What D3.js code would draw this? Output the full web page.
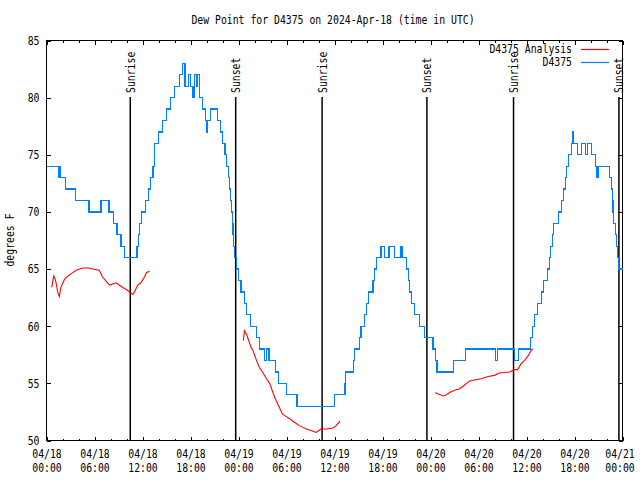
<!DOCTYPE html>
<html><head><meta charset="utf-8">
<script src="https://cdn.jsdelivr.net/npm/d3@7"></script>
<style>
body{margin:0;background:#fff}
svg{display:block}
text{font-family:"DejaVu Sans Mono",monospace;font-size:12px;fill:#000}
</style>
</head><body><svg id="c" width="640" height="480"></svg>
<script>
const title = "Dew Point for D4375 on 2024-Apr-18 (time in UTC)";
const yLabel = "degrees F";
const startTime = "2024-04-18T00:00:00Z";
const endTime = "2024-04-21T00:00:00Z";
const yTicks = [50, 55, 60, 65, 70, 75, 80, 85];
const seriesNames = ["D4375 Analysis", "D4375"];
const seriesColors = ["#ff0000", "#0080ff"];

// D4375 observations: hours since start, value (change points)
const obsHours = [0.1,1.5,1.6,1.7,2.4,3.6,5.3,6.8,7.8,8.4,8.8,9.3,9.7,11.3,11.5,11.6,11.9,12.4,12.7,13.0,13.3,13.45,13.5,14.0,14.5,14.95,15.5,16.0,16.6,17.0,17.3,17.7,18.0,18.3,18.5,18.7,18.85,19.1,19.5,19.85,19.95,20.1,20.5,21.4,21.7,22.0,22.3,22.5,22.7,22.9,23.0,23.1,23.2,23.3,23.4,23.5,23.75,24.0,24.3,24.7,25.0,25.5,26.2,26.6,27.2,27.5,27.8,28.6,29.0,30.0,31.3,36.0,37.3,37.4,38.4,38.5,39.1,39.3,39.75,40.0,40.2,40.8,41.0,41.2,41.8,42.25,42.8,43.5,44.3,44.5,44.95,45.2,45.4,45.6,46.0,46.6,47.25,48.3,48.6,48.8,50.9,52.4,56.15,56.4,58.45,59.0,60.5,60.7,60.95,61.4,61.9,62.1,62.6,62.85,63.0,63.2,63.4,64.0,64.4,64.6,64.9,65.0,65.2,65.6,65.75,65.85,66.4,66.9,67.4,67.6,68.1,68.6,68.8,69.0,70.4,70.6,70.7,70.8,70.9,71.1,71.25,71.35,71.45,72.0];
const obsValues = [74,73,74,73,72,71,70,71,70,69,68,67,66,67,68,69,70,71,72,73,74,75,76,77,78,79,80,81,82,83,81,82,81,80,82,81,82,80,79,78,77,78,79,78,77,76,75,74,73,72,71,70,69,68,67,66,65,64,63,62,61,60,59,58,57,58,57,56,55,54,53,54,55,56,57,58,59,60,61,62,63,64,65,66,67,66,67,66,67,66,65,64,63,62,61,60,59,58,57,56,57,58,57,58,57,58,59,60,61,62,63,64,65,66,67,68,69,70,71,72,73,74,75,76,77,76,75,76,75,76,75,74,73,74,73,72,71,70,69,68,67,66,65,65];

// D4375 Analysis: hours since start, value (null = gap)
const anaHours = [0.66,0.9,1.05,1.2,1.4,1.6,1.8,2.0,2.25,2.7,3.1,3.7,4.5,5.2,5.8,6.6,7.0,7.5,7.9,8.3,8.7,9.1,9.75,10.2,10.5,10.8,11.0,11.4,11.8,12.25,12.5,12.9,
  18.0,
  24.6,24.75,25.0,25.2,25.4,25.6,25.8,26.2,26.6,27.0,27.5,27.9,28.3,28.7,29.1,29.5,29.75,30.4,31.0,31.6,32.5,33.3,33.7,34.1,34.3,35.0,35.8,36.2,36.7,
  42.0,
  48.6,48.9,49.2,49.6,50.0,50.4,51.0,51.6,52.0,52.5,52.9,53.5,54.3,55.2,56.0,56.6,57.9,58.5,58.9,59.3,59.75,60.2,60.6,60.8];
const anaValues = [63.4,64.4,64.2,63.8,63.0,62.6,63.4,63.7,64.1,64.4,64.6,64.9,65.1,65.1,65.0,64.9,64.3,63.9,63.6,63.7,63.8,63.6,63.3,63.1,62.9,62.8,63.0,63.6,63.8,64.3,64.7,64.8,
  null,
  58.75,59.6,59.3,58.9,58.5,58.1,57.9,57.1,56.4,56.0,55.4,55.0,54.2,53.5,52.9,52.3,52.2,51.9,51.6,51.3,51.0,50.8,50.7,50.9,51.0,51.0,51.1,51.3,51.7,
  null,
  54.2,54.1,54.0,53.9,54.0,54.2,54.4,54.5,54.7,55.0,55.2,55.3,55.4,55.6,55.7,55.9,56.0,56.2,56.2,56.7,57.0,57.4,57.9,58.0];

const sunLabels = ["Sunrise","Sunset","Sunrise","Sunset","Sunrise","Sunset"];
const sunHours = [10.47, 23.65, 34.45, 47.55, 58.38, 71.55];

const svg = d3.select("#c");
const t0 = new Date(startTime), t1 = new Date(endTime);
const H = 3600000;
const toDate = h => new Date(t0.getTime() + h * H);

const x = d3.scaleUtc().domain([t0, t1]).range([46.5, 622.5]);
const y = d3.scaleLinear().domain([50, 85]).range([440.5, 40.5]);

const CW = 5.9;
function fit(sel){
  sel.each(function(){
    const s = d3.select(this); const n = this.textContent.length;
    s.attr("textLength", n * CW).attr("lengthAdjust", "spacingAndGlyphs");
  });
}

// title
svg.append("text").attr("x", 333).attr("y", 20).attr("text-anchor","middle")
  .attr("dominant-baseline","middle").text(title).call(fit);

// y label
svg.append("text").attr("transform","translate(10,240) rotate(-90)")
  .attr("text-anchor","middle").attr("dominant-baseline","middle").text(yLabel).call(fit);

// ticks
const majorX = d3.utcHour.every(6).range(t0, new Date(t1.getTime()+1));
const minorX = d3.utcHour.every(2).range(t0, new Date(t1.getTime()+1)).filter(d => d.getUTCHours() % 6 !== 0);

const gx = svg.append("g").attr("transform","translate(0,440.5)")
  .call(d3.axisBottom(x).tickValues(majorX).tickSizeInner(-4).tickSizeOuter(0).tickPadding(9)
    .tickFormat(d3.utcFormat("%m/%d")));
gx.select(".domain").remove();
gx.selectAll(".tick text").each(function(d, i, nodes){
  const s = d3.select(this);
  const last = i === nodes.length - 1;
  const tx = last ? -3 : 0;
  s.text(null).attr("y", 9);
  s.append("tspan").attr("x",tx).attr("dy","0.71em").text(d3.utcFormat("%m/%d")(d));
  s.append("tspan").attr("x",tx).attr("dy","1.2em").text(d3.utcFormat("%H:%M")(d));
  s.selectAll("tspan").attr("textLength", 5*CW).attr("lengthAdjust","spacingAndGlyphs");
});
gx.attr("font-size", null).attr("font-family", null);

const gxm = svg.append("g").attr("transform","translate(0,440.5)")
  .call(d3.axisBottom(x).tickValues(minorX).tickSizeInner(-2).tickSizeOuter(0).tickFormat(""));
gxm.select(".domain").remove();

const gt = svg.append("g").attr("transform","translate(0,40.5)")
  .call(d3.axisTop(x).tickValues(majorX).tickSizeInner(-4).tickSizeOuter(0).tickFormat(""));
gt.select(".domain").remove();
const gtm = svg.append("g").attr("transform","translate(0,40.5)")
  .call(d3.axisTop(x).tickValues(minorX).tickSizeInner(-2).tickSizeOuter(0).tickFormat(""));
gtm.select(".domain").remove();

const gy = svg.append("g").attr("transform","translate(46.5,0)")
  .call(d3.axisLeft(y).tickValues(yTicks).tickSizeInner(-4).tickSizeOuter(0).tickPadding(7));
gy.select(".domain").remove();
gy.attr("font-size", null).attr("font-family", null);
gy.selectAll(".tick text").call(fit);

const gyr = svg.append("g").attr("transform","translate(622.5,0)")
  .call(d3.axisRight(y).tickValues(yTicks).tickSizeInner(-4).tickSizeOuter(0).tickFormat(""));
gyr.select(".domain").remove();

svg.selectAll(".tick line").attr("stroke","#000").attr("shape-rendering","crispEdges");

// border
svg.append("rect").attr("x",46.5).attr("y",40.5).attr("width",576).attr("height",400)
  .attr("fill","none").attr("stroke","#000").attr("shape-rendering","crispEdges");

// sunrise / sunset
const sunG = svg.append("g");
sunHours.forEach((h, i) => {
  const sx = x(toDate(h));
  sunG.append("line").attr("x1", sx).attr("x2", sx).attr("y1", 97).attr("y2", 440.5)
    .attr("stroke","#000").attr("stroke-width",1.5);
  sunG.append("text").attr("transform", `translate(${sx+1},93) rotate(-90)`)
    .attr("text-anchor","start").attr("dominant-baseline","middle").text(sunLabels[i]).call(fit);
});

// series
const obs = obsHours.map((h,i) => ({t: toDate(h), v: obsValues[i]}));
const ana = anaHours.map((h,i) => ({t: toDate(h), v: anaValues[i]}));

svg.append("path").datum(ana).attr("fill","none").attr("stroke",seriesColors[0]).attr("stroke-width",1.1)
  .attr("d", d3.line().defined(d => d.v !== null).x(d => x(d.t)).y(d => y(d.v)));

svg.append("path").datum(obs).attr("fill","none").attr("stroke",seriesColors[1]).attr("stroke-width",1.2)
  .attr("shape-rendering","crispEdges")
  .attr("d", d3.line().curve(d3.curveStepAfter).x(d => x(d.t)).y(d => y(d.v)));

// legend
const lg = svg.append("g");
seriesNames.forEach((name, i) => {
  const ly = 49.5 + i * 13;
  lg.append("text").attr("x", 572).attr("y", ly).attr("text-anchor","end")
    .attr("dominant-baseline","middle").text(name).call(fit);
  lg.append("line").attr("x1", 581).attr("x2", 609).attr("y1", ly).attr("y2", ly)
    .attr("stroke", seriesColors[i]).attr("stroke-width", 1.2);
});
</script>
</body></html>
